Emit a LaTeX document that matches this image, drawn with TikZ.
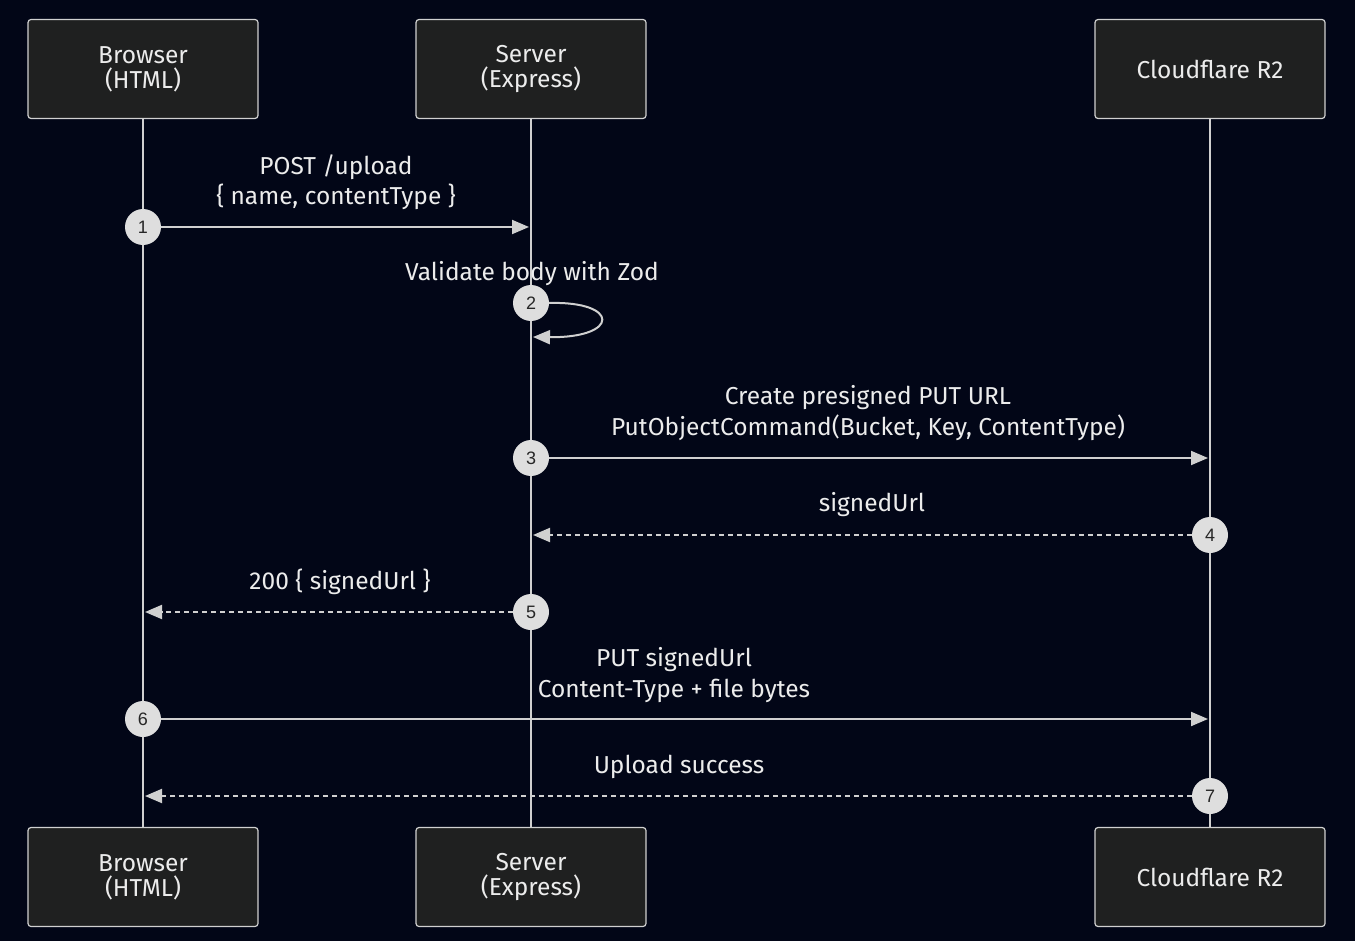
\documentclass[tikz,border=0pt]{standalone}
\usepackage{fontspec}
\setmainfont{Fira Sans}
\newfontfamily\numfont{Liberation Sans}
\usetikzlibrary{arrows.meta}
\definecolor{bgdark}{RGB}{2,6,23}
\definecolor{actorfill}{RGB}{31,32,32}
\definecolor{linegray}{RGB}{208,208,208}
\definecolor{dotfill}{RGB}{222,222,222}
\definecolor{txtlight}{RGB}{236,236,236}
\tikzset{
    actor/.style={
        draw=linegray, fill=actorfill, line width=1.2pt, rounded corners=3pt,
        minimum width=230pt, minimum height=99pt, align=center,
        text=txtlight, font=\fontsize{24.5}{25}\selectfont
    },
    lab/.style={
        text=txtlight, align=center, font=\fontsize{24.5}{30.5}\selectfont
    },
    life/.style={draw=linegray, line width=2pt},
    msg/.style={draw=linegray, line width=2pt, -{Triangle[length=17pt,width=14pt]}},
    reply/.style={msg, dash pattern=on 5pt off 4pt},
    seq/.style={
        circle, fill=dotfill, minimum size=36pt, inner sep=0pt,
        text=black!85, font=\numfont\fontsize{18}{18}\selectfont
    }
}

\begin{document}
\begin{tikzpicture}[x=1pt,y=-1pt]

% --- geometry (pixel grid of the reference) ---
    \def\xB{143}     % browser lifeline
    \def\xS{531}     % server lifeline
    \def\xR{1210}    % R2 lifeline

% background
    \fill[bgdark] (0,0) rectangle (1355,941);

% actors, top and bottom
    \node[actor] (brTop) at (\xB,69)  {Browser\\(HTML)};
    \node[actor] (svTop) at (\xS,69)  {Server\\(Express)};
    \node[actor] (rtTop) at (\xR,69)  {Cloudflare R2};
    \node[actor] (brBot) at (\xB,877) {Browser\\(HTML)};
    \node[actor] (svBot) at (\xS,877) {Server\\(Express)};
    \node[actor] (rtBot) at (\xR,877) {Cloudflare R2};

% lifelines
    \foreach \a in {br,sv,rt}{
        \draw[life] (\a Top.south) -- (\a Bot.north);
    }

% free ends of the messages
    \coordinate (sv1) at (\xS-2,227);
    \coordinate (sv2) at (\xS+2,337);
    \coordinate (rt3) at (\xR-2,458);
    \coordinate (sv4) at (\xS+2,535);
    \coordinate (br5) at (\xB+2,612);
    \coordinate (rt6) at (\xR-2,719);
    \coordinate (br7) at (\xB+2,796);

% sequence numbers
    \node[seq] (n1) at (\xB,227) {1};
    \node[seq] (n2) at (\xS,303) {2};
    \node[seq] (n3) at (\xS,458) {3};
    \node[seq] (n4) at (\xR,535) {4};
    \node[seq] (n5) at (\xS,612) {5};
    \node[seq] (n6) at (\xB,719) {6};
    \node[seq] (n7) at (\xR,796) {7};

% messages
    \draw[msg]   (n1) -- (sv1);
    \draw[msg]   (n2.east) .. controls (620,301) and (620,338) .. (sv2);
    \draw[msg]   (n3) -- (rt3);
    \draw[reply] (n4) -- (sv4);
    \draw[reply] (n5) -- (br5);
    \draw[msg]   (n6) -- (rt6);
    \draw[reply] (n7) -- (br7);

% labels
    \node[lab] (t1) at (336,182) {POST /upload\\\{ name, contentType \}};
    \node[lab] (t2) at (532,274) {Validate body with Zod};
    \node[lab] (t3) at (868,413) {Create presigned PUT URL\\PutObjectCommand(Bucket, Key, ContentType)};
    \node[lab] (t4) at (872,505) {signedUrl};
    \node[lab] (t5) at (340,582) {200 \{ signedUrl \}};
    \node[lab] (t6) at (674,675) {PUT signedUrl\\Content-Type + file bytes};
    \node[lab] (t7) at (679,767) {Upload success};

\end{tikzpicture}
\end{document}
